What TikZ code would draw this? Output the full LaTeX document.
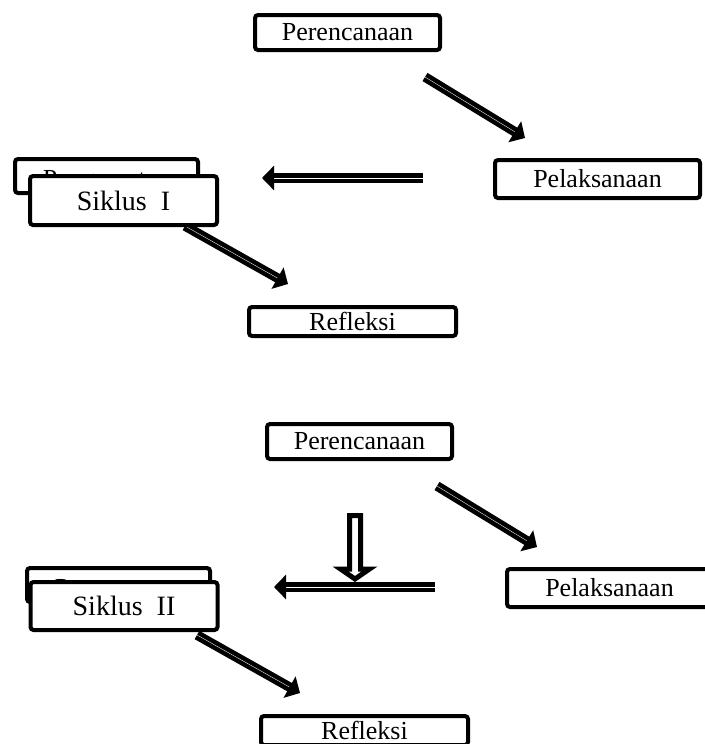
\documentclass[tikz,border=0pt]{standalone}
\usepackage{fontspec}
\setmainfont{Liberation Serif}
\usetikzlibrary{arrows.meta}

\begin{document}
\begin{tikzpicture}[x=1pt,y=-1pt,box/.style={draw,fill=white,line width=4pt,rounded corners=3pt,inner sep=0pt,font=\fontsize{26}{31}\selectfont},flow/.style={draw,line width=4.6pt,double=white,double distance=.35pt,-{Triangle[length=12pt,width=24pt]}}]
\useasboundingbox (0,0) rectangle (704,744);

% one pass per cycle; the second one sits 12pt right and 409pt lower
\foreach \xx/\yy/\n/\cyc/\cx/\cy/\ch in {0/0/1/I/123.5/200.5/49,12/409/2/II/112/197/48}{
 \begin{scope}[shift={(\xx,\yy)}]
  \node[box,minimum width=185,minimum height=35] (plan\n) at (347.5,32.5) {Perencanaan};
  \node[box,minimum width=205,minimum height=38] (act\n) at (597.5,179) {Pelaksanaan};
  \node[box,minimum width=183,minimum height=34] (obs\n) at (106.5,176) {\smash{\raisebox{-11pt}{Pengamatan}}};
  \node[box,minimum width=207,minimum height=29] (refl\n) at (352.5,321.5) {Refleksi};
  \coordinate (pa\n) at (425,77);
  \coordinate (pb\n) at (525,138);
  \coordinate (qa\n) at (423,178);
  \coordinate (qb\n) at (262,178);
  \coordinate (ra\n) at (185,226);
  \coordinate (rb\n) at (288,284);
  \draw[flow] (pa\n)--(pb\n);
  \draw[flow] (qa\n)--(qb\n);
  \draw[flow] (ra\n)--(rb\n);
  \node[box,font=\fontsize{28}{33}\selectfont,minimum width=187,minimum height=\ch] (cyc\n) at (\cx,\cy) {Siklus\ \ \cyc};
 \end{scope}
}
\draw[line width=5pt,fill=white,line join=miter] (349.5,515.5)--(360.5,515.5)--(360.5,569)--(369.5,569)--(355,579)--(340.5,569)--(349.5,569)--cycle;
\end{tikzpicture}
\end{document}
